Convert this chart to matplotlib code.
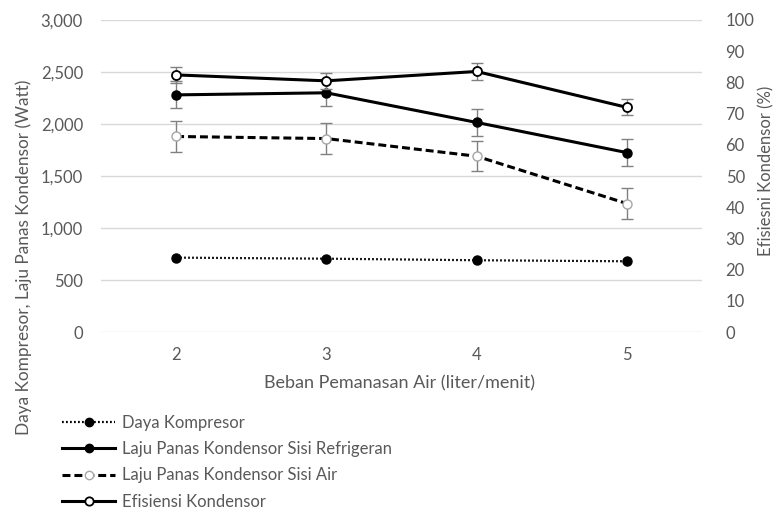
import matplotlib
matplotlib.use('Agg')
import matplotlib.pyplot as plt
from matplotlib.lines import Line2D
from matplotlib.ticker import FuncFormatter

plt.rcParams['font.family'] = ['Lato', 'DejaVu Sans']

# data (beban pemanasan air, liter/menit)
beban = [2, 3, 4, 5]
daya_kompresor = [715, 705, 690, 680]
laju_refrigeran = [2280, 2300, 2015, 1725]
laju_air = [1880, 1860, 1690, 1235]
efisiensi = [82.4, 80.5, 83.5, 72.0]
err_refrigeran = [130, 130, 130, 130]
err_air = [145, 145, 145, 145]
err_efisiensi = [2.6, 2.6, 2.6, 2.6]

txt = '#595959'
grid_c = '#d9d9d9'
err_c = '#808080'
fs = 12

dotted = (0, (0.8, 1.0))
dashed = (0, (2.6, 1.3))

fig = plt.figure(figsize=(7.78, 5.11), dpi=100)
ax = fig.add_axes([101/778, 179/511, 601/778, 312/511])
ax2 = ax.twinx()
ax2.set_position(ax.get_position())

# primary axis: watt
ax.errorbar(beban, laju_refrigeran, yerr=err_refrigeran, fmt='none', ecolor=err_c,
            elinewidth=1, capsize=4, capthick=1, zorder=2)
ax.errorbar(beban, laju_air, yerr=err_air, fmt='none', ecolor=err_c,
            elinewidth=1, capsize=4, capthick=1, zorder=2)
ax.plot(beban, daya_kompresor, color='black', lw=1.6, ls=dotted,
        marker='o', ms=6.5, mfc='black', mec='black', zorder=3)
ax.plot(beban, laju_refrigeran, color='black', lw=2.2, ls='-',
        marker='o', ms=6.5, mfc='black', mec='black', zorder=3)
ax.plot(beban, laju_air, color='black', lw=2.2, ls=dashed,
        marker='o', ms=6.5, mfc='white', mec='#a6a6a6', mew=1, zorder=3)

# secondary axis: efisiensi
ax2.errorbar(beban, efisiensi, yerr=err_efisiensi, fmt='none', ecolor=err_c,
             elinewidth=1, capsize=4, capthick=1, zorder=2)
ax2.plot(beban, efisiensi, color='black', lw=2.2, ls='-',
         marker='o', ms=6.5, mfc='white', mec='black', mew=1.3, zorder=3)

ax.set_xlim(1.5, 5.5)
ax.set_ylim(0, 3000)
ax2.set_ylim(0, 100)
ax.set_xticks(beban)
ax.set_yticks(range(0, 3001, 500))
ax2.set_yticks(range(0, 101, 10))
ax.yaxis.set_major_formatter(FuncFormatter(lambda v, p: f'{int(v):,}'))

ax.grid(axis='y', color=grid_c, lw=1)
ax.set_axisbelow(True)
for a in (ax, ax2):
    for s in a.spines.values():
        s.set_visible(False)
    a.tick_params(length=0, colors=txt, labelsize=fs)
ax.tick_params(axis='y', pad=13)
ax.tick_params(axis='x', pad=11)
ax2.tick_params(axis='y', pad=17)

fig.text(400/778, 1 - 383/511, 'Beban Pemanasan Air (liter/menit)', ha='center',
         va='center', color=txt, fontsize=13)
fig.text(24/778, 1 - 257/511, 'Daya Kompresor, Laju Panas Kondensor (Watt)',
         rotation=90, ha='center', va='center', color=txt, fontsize=12.4)
fig.text(766/778, 1 - 171/511, 'Efisiesni Kondensor (%)', rotation=90,
         ha='center', va='center', color=txt, fontsize=fs)

handles = [
    Line2D([], [], color='black', lw=1.6, ls=dotted, marker='o', ms=6,
           mfc='black', mec='black'),
    Line2D([], [], color='black', lw=2.2, ls='-', marker='o', ms=6,
           mfc='black', mec='black'),
    Line2D([], [], color='black', lw=2.2, ls=dashed, marker='o', ms=6,
           mfc='white', mec='#a6a6a6'),
    Line2D([], [], color='black', lw=2.2, ls='-', marker='o', ms=6,
           mfc='white', mec='black', mew=1.3),
]
labels = ['Daya Kompresor', 'Laju Panas Kondensor Sisi Refrigeran',
          'Laju Panas Kondensor Sisi Air', 'Efisiensi Kondensor']
leg = fig.legend(handles, labels, loc='upper left', bbox_to_anchor=(62/778, 1 - 415/511),
                 frameon=False, fontsize=fs, handlelength=3.2, handletextpad=0.4,
                 labelspacing=0.61, borderaxespad=0, borderpad=0)
for t in leg.get_texts():
    t.set_color(txt)

fig.savefig('out.png', dpi=100)
